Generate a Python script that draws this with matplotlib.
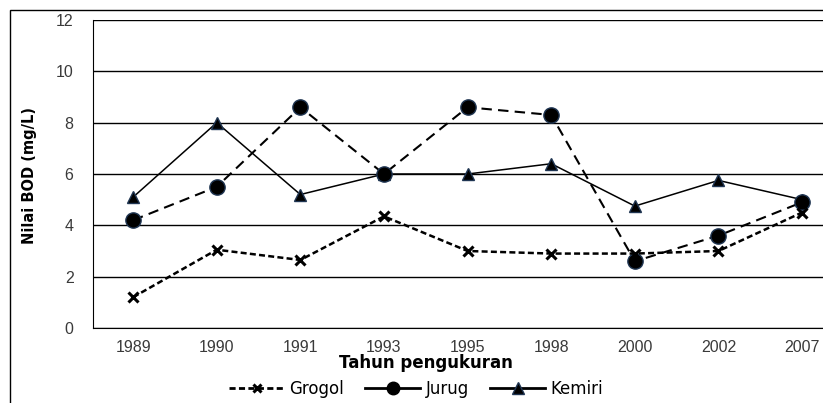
import numpy as np
import matplotlib.pyplot as plt
from matplotlib.lines import Line2D
from matplotlib.patches import Rectangle

years = ["1989", "1990", "1991", "1993", "1995", "1998", "2000", "2002", "2007"]
grogol = [1.2, 3.05, 2.65, 4.35, 3.0, 2.9, 2.9, 3.0, 4.5]
jurug = [4.2, 5.5, 8.6, 6.0, 8.6, 8.3, 2.6, 3.6, 4.9]
kemiri = [5.1, 8.0, 5.2, 6.0, 6.0, 6.4, 4.75, 5.75, 5.0]
y_ticks = [0, 2, 4, 6, 8, 10, 12]

tick_font = ["Liberation Sans", "DejaVu Sans"]
edge = "#1f3552"
tick_color = "#3a3a3a"

fig = plt.figure(figsize=(8.23, 4.03), dpi=100)
# outer chart-area border (right and bottom run off the crop)
fig.patches.append(Rectangle((10 / 823, -0.1), 1.2, 1 - 10 / 403 + 0.1, transform=fig.transFigure,
                             fill=False, edgecolor="black", linewidth=1.0))
ax = fig.add_axes([93 / 823, 1 - 328 / 403, 1 - 93 / 823, (328 - 20) / 403])

x = np.arange(len(years))
ax.plot(x, kemiri, color="black", linewidth=1.1, marker="^", markersize=9,
        markerfacecolor="black", markeredgecolor=edge, zorder=3)
ax.plot(x, jurug, color="black", linewidth=1.5, linestyle=(0, (5, 3)), marker="o", markersize=11,
        markerfacecolor="black", markeredgecolor=edge, zorder=3)
ax.plot(x, grogol, color="black", linewidth=1.8, linestyle=(0, (2.4, 1.3)), marker="x", markersize=7,
        markeredgewidth=2.2, markeredgecolor="black", zorder=3)

ax.set_xlim(-0.48, 8.25)
ax.set_ylim(0, 12)
ax.set_yticks(y_ticks)
ax.set_xticks(x)
ax.set_xticklabels(years, family=tick_font, fontsize=11.5, color=tick_color)
ax.set_yticklabels([str(v) for v in y_ticks], family=tick_font, fontsize=11.5, color=tick_color)
ax.tick_params(axis="both", length=0)
ax.tick_params(axis="x", pad=8.5)
ax.tick_params(axis="y", pad=14)
ax.yaxis.grid(True, color="black", linewidth=1.0)
ax.set_axisbelow(True)
for side in ["top", "right"]:
    ax.spines[side].set_visible(False)

fig.text(30 / 823, 1 - 175 / 403, "Nilai BOD (mg/L)", family="DejaVu Sans", fontsize=10.5,
         fontweight="bold", rotation=90, ha="center", va="center")
fig.text(426 / 823, 1 - 363 / 403, "Tahun pengukuran", family="DejaVu Sans", fontsize=12,
         fontweight="bold", ha="center", va="center")

handles = [
    Line2D([], [], color="black", linewidth=2.0, linestyle=(0, (2.2, 1.2)), marker="x",
           markersize=6, markeredgewidth=2.2),
    Line2D([], [], color="black", linewidth=2.0, marker="o", markersize=9),
    Line2D([], [], color="black", linewidth=2.0, marker="^", markersize=8, markeredgecolor=edge),
]
fig.legend(handles, ["Grogol", "Jurug", "Kemiri"], loc="center", bbox_to_anchor=(416 / 823, 1 - 389 / 403),
           ncol=3, frameon=False, prop={"family": "DejaVu Sans", "size": 12}, handlelength=3.3,
           handletextpad=0.3, columnspacing=1.3, borderpad=0)

fig.savefig("out.png", dpi=100)
